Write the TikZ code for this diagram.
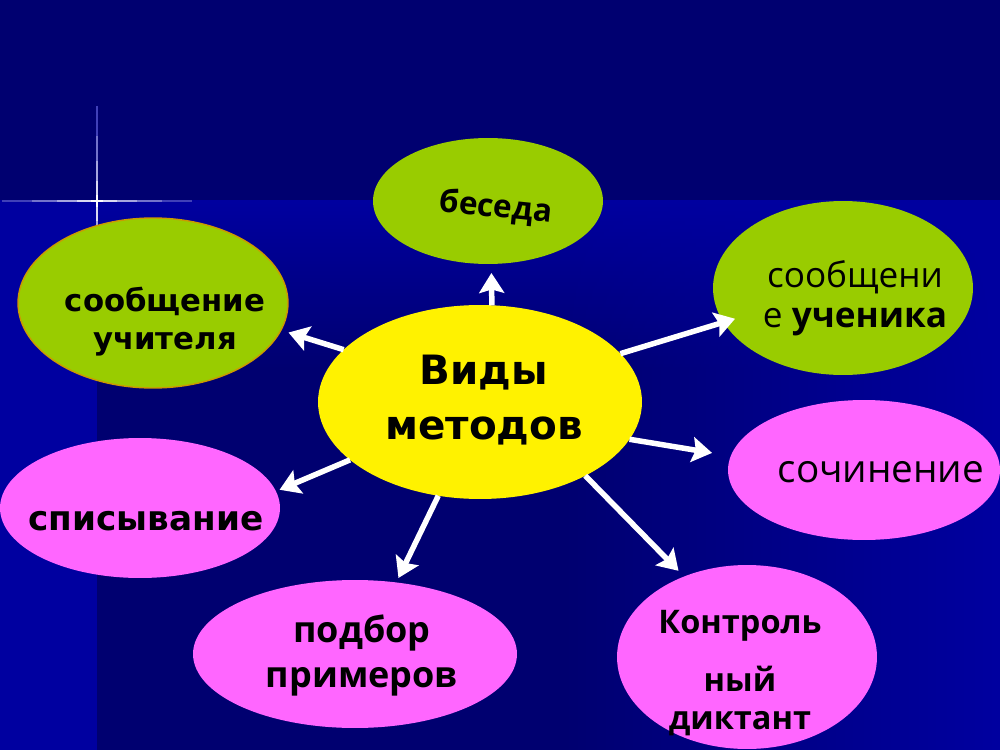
\documentclass[tikz,border=0pt]{standalone}
\usepackage{fontspec}
\setmainfont{Open Sans}
\newfontfamily\dejavu{DejaVu Sans}
\usetikzlibrary{shapes.geometric, arrows.meta, fadings}
\definecolor{bgtop}{HTML}{000070}
\definecolor{bgblue}{HTML}{0000A0}
\definecolor{bgdark}{HTML}{000070}
\definecolor{leaf}{HTML}{99CC00}
\definecolor{lilac}{HTML}{FF66FF}
\definecolor{gold}{HTML}{CC9900}
\tikzstyle{oval} = [ellipse, inner sep=0pt, outer sep=0pt]
\tikzstyle{greenoval} = [oval, fill=leaf]
\tikzstyle{pinkoval} = [oval, fill=lilac]
\tikzstyle{mainoval} = [oval, fill=yellow]
\tikzstyle{lbl} = [text=black, align=center, inner sep=0pt]
\tikzstyle{arrow} = [white, line width=0.11cm, -{Stealth[length=0.4cm, width=0.5cm, inset=0.07cm]}]

\begin{document}
\begin{tikzpicture}[x=0.02cm, y=-0.02cm]
\useasboundingbox (0,0) rectangle (1000,750);
% background
\fill[bgblue] (0,0) rectangle (1000,750);
\fill[bgdark] (97,200) rectangle (1000,750);
\fill[bgblue, path fading=south] (97,200) rectangle (1000,370);
\fill[bgblue, path fading=west] (560,200) rectangle (1000,750);
\fill[bgtop] (0,0) rectangle (1000,200);
% flare
\foreach \r/\c in {95/25, 65/45, 40/65, 20/85, 6/100} {
  \draw[white!\c!bgblue, line width=0.9pt] (97-\r,201) -- (97+\r,201);
  \draw[white!\c!bgblue, line width=0.9pt] (97,201-\r) -- (97,201+\r);
}

% ovals
\node (beseda) [greenoval, minimum width=4.6cm, minimum height=2.52cm] at (488,201) {};
\node (uchitel) [greenoval, draw=gold, line width=0.8pt, minimum width=5.4cm, minimum height=3.4cm] at (153,303) {};
\node (uchenik) [greenoval, minimum width=5.2cm, minimum height=3.48cm] at (843,288) {};
\node (soch) [pinkoval, minimum width=5.44cm, minimum height=2.8cm] at (864,470) {};
\node (kontr) [pinkoval, minimum width=5.2cm, minimum height=3.68cm] at (747,657) {};
\node (podbor) [pinkoval, minimum width=6.48cm, minimum height=2.96cm] at (355,654) {};
\node (spis) [pinkoval, minimum width=5.6cm, minimum height=2.8cm] at (140,508) {};
\node (vid) [mainoval, minimum width=6.48cm, minimum height=3.88cm] at (480,402) {};

% texts
\node (tBeseda) [lbl, rotate=-6, font=\bfseries\fontsize{18}{22}\selectfont] at (496,208) {беседа};
\node (tUchitel) [lbl, font=\dejavu\bfseries\fontsize{17.5}{21.6}\selectfont] at (165,322) {сообщение\\учителя};
\node (tUchenik) [lbl, font=\fontsize{20}{22.8}\selectfont] at (855,298) {сообщени\\е \textbf{ученика}};
\node (tVid) [lbl, font=\dejavu\bfseries\fontsize{23}{31.3}\selectfont] at (484,400) {Виды\\методов};
\node (tSoch) [lbl, font=\fontsize{22}{26}\selectfont] at (881,472) {сочинение};
\node (tKontr) [lbl, font=\bfseries\fontsize{18.5}{21.6}\selectfont] at (740,673) {Контроль\\[11pt]ный\\диктант};
\node (tPodbor) [lbl, font=\bfseries\fontsize{20.5}{25.6}\selectfont] at (362,655) {подбор\\примеров};
\node (tSpis) [lbl, font=\dejavu\bfseries\fontsize{19.5}{23}\selectfont] at (146,521) {списывание};

% arrows
\draw [arrow, shorten >=0.18cm] (vid.83) -- (beseda.273);
\draw [arrow, shorten >=0.16cm] (vid.159) -- (uchitel.348);
\draw [arrow, shorten >=-0.24cm] (vid.19) -- (uchenik.196);
\draw [arrow, shorten >=0.38cm] (vid.346) -- (soch.174);
\draw [arrow, shorten >=0.16cm] (vid.325) -- (kontr.128);
\draw [arrow, shorten >=0.1cm] (vid.246) -- (podbor.60);
\draw [arrow, shorten >=0.08cm] (vid.204) -- (spis.7);
\end{tikzpicture}
\end{document}
